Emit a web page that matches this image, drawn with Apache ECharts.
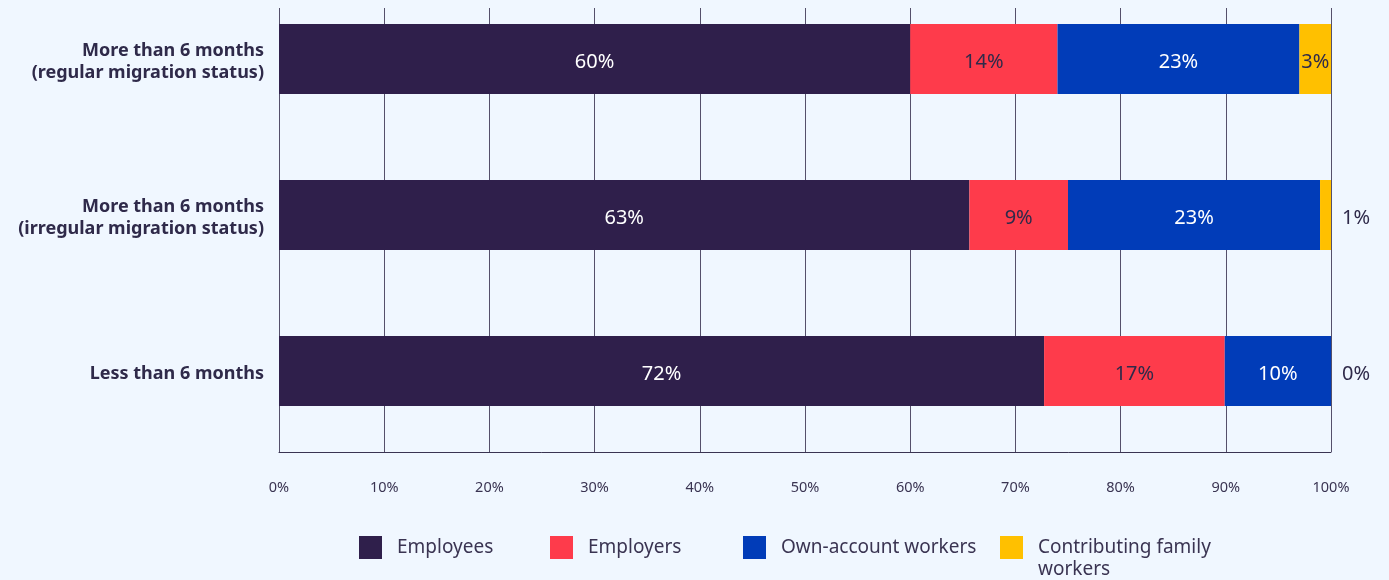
<!DOCTYPE html>
<html>
<head>
<meta charset="utf-8">
<script src="https://cdn.jsdelivr.net/npm/echarts@6/dist/echarts.min.js"></script>
<style>
  html, body { margin: 0; padding: 0; background: #f0f7ff; }
  #chart { width: 1389px; height: 580px; }
</style>
</head>
<body>
<div id="chart"></div>
<script>
// Status in employment by length of stay / migration status (percent)
const categories = [
  'More than 6 months\n(regular migration status)',
  'More than 6 months\n(irregular migration status)',
  'Less than 6 months'
];
const seriesNames = ['Employees', 'Employers', 'Own-account workers', 'Contributing family workers'];
const employees = [60, 63, 72];
const employers = [14, 9, 17];
const ownAccount = [23, 23, 10];
const familyWorkers = [3, 1, 0];
const tickLabels = ['0%', '10%', '20%', '30%', '40%', '50%', '60%', '70%', '80%', '90%', '100%'];

const colors = ['#2f1f4b', '#fe3b4b', '#013cb8', '#ffc000'];
const textDark = '#2f2a4a';
const font = 'Noto Sans';

const rows = [employees, employers, ownAccount, familyWorkers];
// Each bar is a 100% stack: segments are drawn as shares of the row total
const totals = categories.map((_, i) => rows.reduce((s, r) => s + r[i], 0));

function buildData(values, small) {
  return values.map((v, i) => {
    const item = { value: v / totals[i] * 100, raw: v };
    if (small && v < 2) {
      item.label = { position: 'right', distance: 11, color: textDark };
    }
    return item;
  });
}

const labelColors = ['#ffffff', textDark, '#ffffff', textDark];

const series = rows.map((vals, k) => ({
  name: seriesNames[k],
  type: 'bar',
  stack: 'total',
  xAxisIndex: 0,
  yAxisIndex: 0,
  barWidth: 70,
  itemStyle: { color: colors[k] },
  label: {
    show: true,
    position: 'inside',
    offset: [0, 3],
    color: labelColors[k],
    fontFamily: font,
    fontSize: 20,
    formatter: p => p.data.raw + '%'
  },
  data: buildData(vals, k === 3)
}));

// The two-line legend entry gets a blank first line so its text starts level with the square
const legendLefts = [359, 550, 743, 1000];
const legendTops = [536, 536, 536, 514.5];
const legends = seriesNames.map((name, k) => ({
  data: [name],
  left: legendLefts[k],
  top: legendTops[k],
  padding: 0,
  icon: 'rect',
  itemWidth: 23,
  itemHeight: 23,
  selectedMode: false,
  formatter: n => n === 'Contributing family workers' ? '\nContributing family\nworkers' : n,
  textStyle: {
    fontFamily: font,
    fontSize: 19,
    color: '#3a3452',
    lineHeight: 22,
    padding: [0, 0, 0, 10]
  }
}));

// Category labels: each line keeps a 22px pitch but sits a few pixels low in it
const catText = { fontFamily: font, fontSize: 18, fontWeight: 'bold', color: textDark };
const catRich = {
  c: Object.assign({ lineHeight: 22, padding: [6, 0, 0, 0] }, catText)
};
const catFormatter = v => v.split('\n').map(line => '{c|' + line + '}').join('\n');

const chart = echarts.init(document.getElementById('chart'));
chart.setOption({
  backgroundColor: '#f0f7ff',
  animation: false,
  legend: legends,
  grid: [
    { left: 279, right: 58, top: -19, height: 468, outerBoundsMode: 'none', containLabel: false },
    { left: 279, right: 58, top: 8, height: 444, outerBoundsMode: 'none', containLabel: false }
  ],
  xAxis: [
    { type: 'value', gridIndex: 0, min: 0, max: 100, show: false },
    {
      type: 'value', gridIndex: 1, min: 0, max: 100, interval: 10,
      axisLine: { show: true, lineStyle: { color: '#3a3452', width: 1 } },
      axisTick: { show: false },
      splitLine: { show: true, lineStyle: { color: '#55506b', width: 1 } },
      axisLabel: {
        margin: 28,
        fontFamily: font,
        fontSize: 14.5,
        color: '#3a3452',
        formatter: v => tickLabels[Math.round(v / 10)]
      }
    }
  ],
  yAxis: [
    {
      type: 'category', gridIndex: 0, inverse: true, data: categories,
      axisLine: { show: false },
      axisTick: { show: false },
      axisLabel: Object.assign({
        margin: 15,
        align: 'right',
        lineHeight: 22,
        formatter: catFormatter,
        rich: catRich
      }, catText)
    },
    { type: 'value', gridIndex: 1, show: false }
  ],
  series: series
});
</script>
</body>
</html>
